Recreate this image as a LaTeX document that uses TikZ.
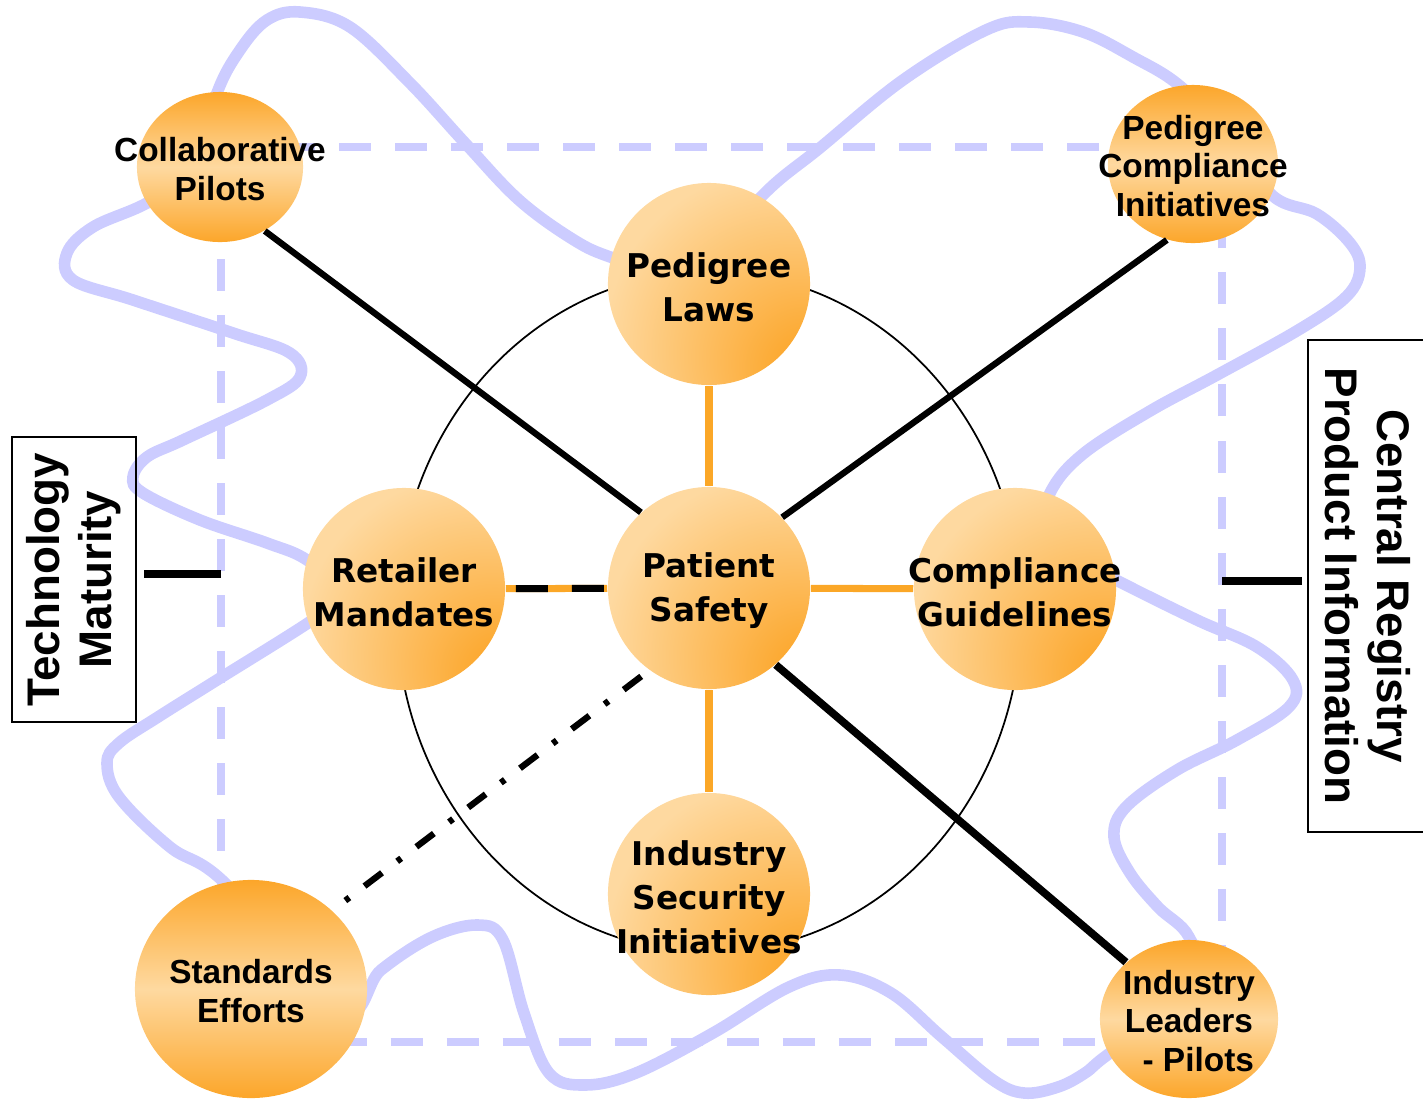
\documentclass[tikz,border=0pt]{standalone}
\usepackage{fontspec}
\usetikzlibrary{shapes.geometric}
\newfontfamily\hubfamily{DejaVu Sans}
\newfontfamily\boxfamily{Liberation Sans}
\definecolor{deeporange}{RGB}{252,166,42}
\definecolor{paleorange}{RGB}{254,217,160}
\definecolor{spokeorange}{RGB}{251,167,39}
\definecolor{lavender}{RGB}{204,204,255}
\pgfdeclareradialshading{hubglow}{\pgfpoint{28bp}{-24bp}}{color(0bp)=(deeporange); color(6bp)=(deeporange); color(42bp)=(paleorange); color(100bp)=(paleorange)}

\begin{document}
\begin{tikzpicture}[x=0.01cm, y=-0.01cm,
  hub/.style={circle, minimum size=2.02cm, inner sep=0pt, shade, shading=hubglow},
  hubtext/.style={align=center, yshift=-0.03cm, font=\hubfamily\bfseries\fontsize{9.3}{12.5}\selectfont},
  corner/.style={ellipse, inner sep=0pt, top color=deeporange, bottom color=deeporange, middle color=paleorange},
  cornertext/.style={align=center, yshift=-0.02cm, font=\boxfamily\bfseries\fontsize{9.5}{11}\selectfont},
  sidebox/.style={draw, line width=0.6pt, inner sep=0pt, align=center, font=\boxfamily\bfseries\fontsize{13}{14.8}\selectfont},
  spoke/.style={spokeorange, line width=2pt},
  tie/.style={line width=1.8pt},
  frame/.style={lavender, line width=2.3pt, dash pattern=on 0.32cm off 0.24cm}]
\useasboundingbox (0,0) rectangle (1423,1105);
\draw[lavender, line width=3.3pt] plot[smooth cycle, tension=0.6] coordinates {
  (195,170) (217,93) (240,50) (267,20) (300,12) (350,27) (410,83) (465,143) (519,200) (574,240)
  (613,258) (690,282) (761,197) (821,147) (903,80) (986,30) (1030,22) (1083,32) (1133,57) (1180,86)
  (1232,140) (1273,196) (1317,214) (1350,243) (1360,268) (1347,296) (1300,329) (1217,375) (1150,411)
  (1083,454) (1050,493) (1040,540) (1116,580) (1197,620) (1257,647) (1293,680) (1289,707) (1237,740)
  (1177,770) (1126,807) (1114,837) (1130,873) (1158,907) (1189,937) (1200,990) (1110,1053) (1085,1073)
  (1058,1087) (1024,1093) (993,1080) (942,1037) (891,993) (840,975) (789,987) (713,1033) (636,1073)
  (585,1085) (549,1073) (524,1013) (503,940) (478,925) (432,937) (381,970) (340,1010) (225,883)
  (170,847) (119,797) (107,763) (119,743) (158,717) (217,680) (308,623) (345,595) (307,560) (267,543)
  (200,520) (143,493) (133,477) (147,457) (183,440) (267,400) (300,377) (290,353) (233,333) (133,300)
  (73,280) (67,253) (93,227) (147,203)};
\draw[frame] (221,147) rectangle (1222,1042);
\draw[line width=0.5pt] (709,612) ellipse [x radius=3.12cm, y radius=3.40cm];

\node[hub, label={[hubtext]center:{Patient\\Safety}}] (patient) at (709,588) {};
\node[hub, label={[hubtext]center:{Pedigree\\Laws}}] (pedlaws) at (709,284) {};
\node[hub, label={[hubtext]center:{Retailer\\Mandates}}] (retail) at (404,589) {};
\node[hub, label={[hubtext]center:{Compliance\\Guidelines}}] (compguide) at (1015,589) {};
\node[hub, label={[hubtext]center:{Industry\\Security\\Initiatives}}] (secinit) at (709,894) {};
\node[corner, minimum width=1.66cm, minimum height=1.50cm, label={[cornertext]center:{Collaborative\\Pilots}}] (collab) at (220,167) {};
\node[corner, minimum width=1.70cm, minimum height=1.58cm, label={[cornertext]center:{Pedigree\\Compliance\\Initiatives}}] (pcinit) at (1193,164) {};
\node[corner, minimum width=2.32cm, minimum height=2.18cm, label={[cornertext]center:{Standards\\Efforts}}] (stds) at (251,989) {};
\node[corner, minimum width=1.78cm, minimum height=1.58cm, label={[cornertext]center:{Industry\\Leaders\\\ \ - Pilots}}] (leaders) at (1189,1019) {};
\node[sidebox, rotate=90, minimum width=2.85cm, minimum height=1.24cm] (techbox) at (74,579.5) {Technology\\Maturity};
\node[sidebox, rotate=-90, minimum width=4.92cm, minimum height=1.20cm] (regbox) at (1368,586) {Central Registry\\Product Information};
\coordinate (techtick) at (221,574);
\coordinate (regtick) at (1222,581);

\path[spoke] (pedlaws) edge (patient)
  (patient) edge (secinit)
  (patient) edge (compguide)
  (retail) edge (patient);
\draw[line width=2pt, dash pattern=on 0.32cm off 0.24cm, dash phase=0.46cm] (retail) -- (patient);
\path[tie] (collab.-55) edge (patient.132)
  (pcinit.-109) edge (patient.44)
  (patient.-49) edge[line width=2.2pt] (leaders.138)
  (patient.-126) edge[dash pattern=on 0.22cm off 0.19cm on 0.05cm off 0.19cm, shorten <=0.1cm, shorten >=0.07cm] (stds.44)
  (techbox.south |- techtick) edge[line width=2.2pt, shorten <=0.07cm] (techtick)
  (regtick) edge[line width=2.2pt, shorten >=0.05cm] (regbox.south |- regtick);
\end{tikzpicture}
\end{document}
